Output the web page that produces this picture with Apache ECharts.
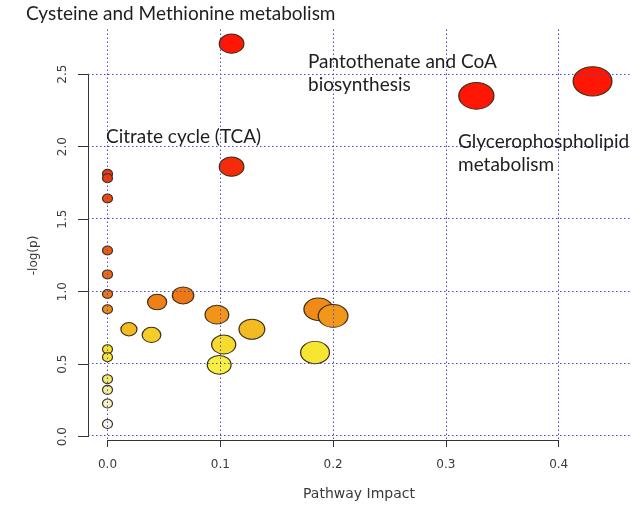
<!DOCTYPE html>
<html>
<head>
<meta charset="utf-8">
<script src="https://cdn.jsdelivr.net/npm/echarts@6/dist/echarts.min.js"></script>
<style>
  html, body { margin: 0; padding: 0; background: #ffffff; }
  #chart { width: 633px; height: 506px; }
</style>
</head>
<body>
<div id="chart"></div>
<script>
// Metabolic pathway topology analysis: impact vs. -log(p)
const pathwayImpact = [0.110, 0.430, 0.327, 0.110, 0, 0, 0, 0, 0, 0, 0,
  0.019, 0.039, 0.044, 0.067, 0.097, 0.103, 0.099, 0.128, 0.187, 0.200, 0.184,
  0, 0, 0, 0, 0, 0];
const negLogP = [2.71, 2.45, 2.35, 1.86, 1.81, 1.78, 1.64, 1.28, 1.115, 0.98, 0.874,
  0.736, 0.697, 0.924, 0.970, 0.837, 0.630, 0.490, 0.736, 0.874, 0.828, 0.575,
  0.598, 0.543, 0.391, 0.317, 0.223, 0.081];

const impactTicks = [0.0, 0.1, 0.2, 0.3, 0.4];
const logpTicks = [0.0, 0.5, 1.0, 1.5, 2.0, 2.5];

const xTitle = 'Pathway Impact';
const yTitle = '-log(p)';

const pathwayLabels = [
  'Cysteine and Methionine metabolism',
  'Pantothenate and CoA\nbiosynthesis',
  'Citrate cycle (TCA)',
  'Glycerophospholipid\nmetabolism'
];

// ---- layout (pixels) ----
const X0 = 107.5, XS = 1128;     // pixel of impact 0, pixels per unit
const Y0 = 436.7, YS = 145;      // pixel of -log(p) 0, pixels per unit
const PL = 88, PR = 630, PT = 28, PB = 440;   // plotting region

const xMin = (PL - X0) / XS, xMax = (PR - X0) / XS;
const yMin = (Y0 - PB) / YS, yMax = (Y0 - PT) / YS;
const xLast = impactTicks[impactTicks.length - 1];
const yLast = logpTicks[logpTicks.length - 1];

// heat-colour ramp from pale (not significant) to red (significant)
const heatStops = [
  [0.08, [248, 248, 240]], [0.22, [245, 242, 198]], [0.32, [243, 238, 154]],
  [0.39, [242, 234, 108]], [0.49, [248, 240, 64]], [0.60, [245, 226, 44]],
  [0.70, [245, 204, 40]], [0.74, [243, 184, 32]], [0.83, [242, 150, 26]],
  [0.90, [239, 132, 24]], [0.98, [239, 118, 22]], [1.10, [239, 106, 20]],
  [1.30, [238, 90, 18]], [1.65, [238, 72, 16]], [1.80, [240, 56, 12]],
  [1.90, [248, 36, 10]], [2.30, [255, 22, 4]]
];
function heatColor(v) {
  if (v <= heatStops[0][0]) return 'rgb(' + heatStops[0][1].join(',') + ')';
  for (let i = 1; i < heatStops.length; i++) {
    if (v <= heatStops[i][0]) {
      const a = heatStops[i - 1], b = heatStops[i];
      const t = (v - a[0]) / (b[0] - a[0]);
      const c = a[1].map((ch, k) => Math.round(ch + (b[1][k] - ch) * t));
      return 'rgb(' + c.join(',') + ')';
    }
  }
  return 'rgb(' + heatStops[heatStops.length - 1][1].join(',') + ')';
}

// circle size grows with pathway impact (slightly wider than tall)
function bubbleSize(val) {
  const r = Math.sqrt(Math.max(val[0], 0));
  return [10 + 44 * r, 9 + 31 * r];
}

const points = pathwayImpact.map((x, i) => [x, negLogP[i]]);

const gridLineStyle = { color: '#4848cc', width: 1, type: [1.5, 2.5] };
const gridLines = impactTicks.map(v => ({ xAxis: v }))
  .concat(logpTicks.map(v => ({ yAxis: v })));

const axisFont = { fontFamily: 'DejaVu Sans', fontSize: 12, color: '#3a3a3a' };
const noteFont = 'Lato';

const chart = echarts.init(document.getElementById('chart'), null, { renderer: 'canvas' });

chart.setOption({
  animation: false,
  backgroundColor: '#ffffff',
  grid: [
    { left: PL, top: PT, width: PR - PL, height: PB - PT },
    { left: X0, top: Y0 - yLast * YS, width: xLast * XS, height: yLast * YS }
  ],
  xAxis: [
    {
      gridIndex: 0, type: 'value', min: xMin, max: xMax,
      axisLine: { show: false }, axisTick: { show: false },
      axisLabel: { show: false }, splitLine: { show: false },
      name: xTitle, nameLocation: 'middle', nameGap: 48,
      nameTextStyle: { fontFamily: 'DejaVu Sans', fontSize: 14, color: '#3a3a3a' }
    },
    {
      gridIndex: 1, type: 'value', min: 0, max: xLast, interval: 0.1,
      position: 'bottom', offset: PB - Y0,
      axisLine: { show: true, onZero: false, lineStyle: { color: '#333333', width: 1 } },
      axisTick: { show: true, length: 7, lineStyle: { color: '#333333', width: 1 } },
      axisLabel: Object.assign({ margin: 19, formatter: v => v.toFixed(1) }, axisFont),
      splitLine: { show: false }
    }
  ],
  yAxis: [
    {
      gridIndex: 0, type: 'value', min: yMin, max: yMax,
      axisLine: { show: false }, axisTick: { show: false },
      axisLabel: { show: false }, splitLine: { show: false }
    },
    {
      gridIndex: 1, type: 'value', min: 0, max: yLast, interval: 0.5,
      position: 'left', offset: X0 - PL,
      axisLine: { show: true, onZero: false, lineStyle: { color: '#333333', width: 1 } },
      axisTick: { show: true, length: 10, lineStyle: { color: '#333333', width: 1 } },
      axisLabel: Object.assign({ margin: 19, rotate: 90, formatter: v => v.toFixed(1) }, axisFont),
      splitLine: { show: false },
      name: yTitle, nameLocation: 'middle', nameGap: 48, nameRotate: 90,
      nameTextStyle: { fontFamily: 'DejaVu Sans', fontSize: 12, color: '#3a3a3a' }
    }
  ],
  series: [
    {
      // dotted reference grid at the tick values
      type: 'scatter', xAxisIndex: 0, yAxisIndex: 0, data: [], z: 1, silent: true,
      markLine: {
        silent: true, symbol: ['none', 'none'], label: { show: false },
        lineStyle: gridLineStyle, emphasis: { disabled: true },
        data: gridLines, animation: false
      }
    },
    {
      type: 'scatter', xAxisIndex: 0, yAxisIndex: 0, z: 3,
      data: points,
      symbol: 'circle',
      symbolSize: bubbleSize,
      itemStyle: {
        color: p => heatColor(p.value[1]),
        borderColor: '#3d2f18', borderWidth: 1.1, opacity: 1
      },
      emphasis: { disabled: true }
    }
  ],
  graphic: [
    { type: 'text', left: 26, top: 4, z: 10,
      style: { text: pathwayLabels[0], font: '19px ' + noteFont, fill: '#1e1e1e' } },
    { type: 'text', left: 308, top: 50, z: 10,
      style: { text: pathwayLabels[1], font: '19px ' + noteFont, fill: '#1e1e1e', lineHeight: 23 } },
    { type: 'text', left: 106, top: 127, z: 10,
      style: { text: pathwayLabels[2], font: '19px ' + noteFont, fill: '#1e1e1e' } },
    { type: 'text', left: 458, top: 130, z: 10,
      style: { text: pathwayLabels[3], font: '19px ' + noteFont, fill: '#1e1e1e', lineHeight: 23 } }
  ]
});
</script>
</body>
</html>
